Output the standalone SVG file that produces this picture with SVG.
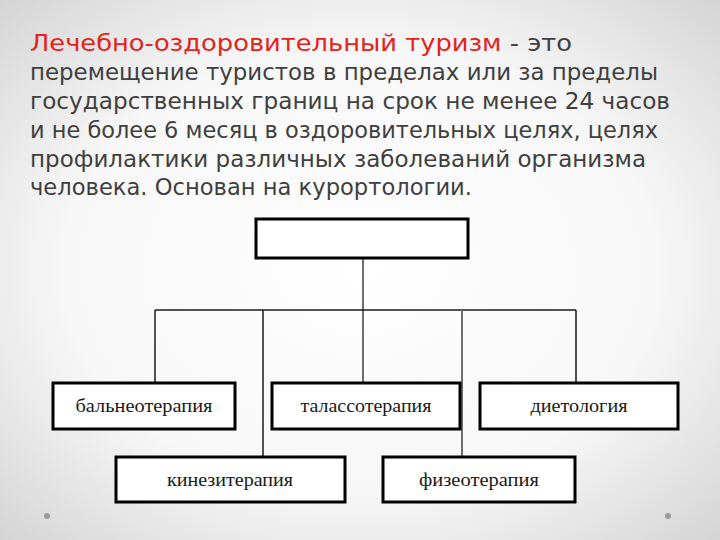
<svg xmlns="http://www.w3.org/2000/svg" width="720" height="540" viewBox="0 0 720 540">
  <defs>
    <radialGradient id="bg" cx="50%" cy="50%" r="75%">
      <stop offset="0" stop-color="#ffffff"/>
      <stop offset="0.55" stop-color="#f7f7f7"/>
      <stop offset="1" stop-color="#cfcfcf"/>
    </radialGradient>
  </defs>
  <style>
    .title { font-family: "DejaVu Sans", "Liberation Sans", sans-serif; font-size: 22.5px; fill: #3f3f3f; }
    .red { fill: #e3231c; }
    .box { fill: #ffffff; stroke: #000000; stroke-width: 3; }
    .lbl { font-family: "Liberation Serif", "Times New Roman", serif; font-size: 19px; fill: #1a1a1a; text-anchor: middle; }
    .ln { stroke: #1a1a1a; stroke-width: 1.5; fill: none; }
    .lng { stroke: #6f6f6f; stroke-width: 2; fill: none; }
    .dot { fill: #9a9a9a; }
  </style>
  <rect x="0" y="0" width="720" height="540" fill="url(#bg)"/>

  <g id="title">
    <text class="title" x="30" y="51" textLength="542" lengthAdjust="spacingAndGlyphs"><tspan class="red">Лечебно-оздоровительный туризм</tspan> - это</text>
    <text class="title" x="30" y="80" textLength="628" lengthAdjust="spacingAndGlyphs">перемещение туристов в пределах или за пределы</text>
    <text class="title" x="30" y="109" textLength="640" lengthAdjust="spacingAndGlyphs">государственных границ на срок не менее 24 часов</text>
    <text class="title" x="30" y="138" textLength="628" lengthAdjust="spacingAndGlyphs">и не более 6 месяц в оздоровительных целях, целях</text>
    <text class="title" x="30" y="167" textLength="616" lengthAdjust="spacingAndGlyphs">профилактики различных заболеваний организма</text>
    <text class="title" x="30" y="195" textLength="442" lengthAdjust="spacingAndGlyphs">человека. Основан на курортологии.</text>
  </g>

  <g id="connectors">
    <line class="lng" x1="363" y1="258" x2="363" y2="383"/>
    <line class="ln" x1="155" y1="310" x2="576" y2="310"/>
    <line class="ln" x1="155" y1="310" x2="155" y2="383"/>
    <line class="ln" x1="263" y1="310" x2="263" y2="457"/>
    <line class="lng" x1="462" y1="310" x2="462" y2="457"/>
    <line class="ln" x1="576" y1="310" x2="576" y2="383"/>
  </g>

  <g id="root">
    <rect class="box" x="256" y="219" width="212" height="39"/>
  </g>
  <g id="balneo">
    <rect class="box" x="53" y="383" width="182" height="46"/>
    <text class="lbl" x="144" y="412" textLength="137" lengthAdjust="spacingAndGlyphs">бальнеотерапия</text>
  </g>
  <g id="talasso">
    <rect class="box" x="272" y="383" width="188" height="46"/>
    <text class="lbl" x="366" y="412" textLength="131" lengthAdjust="spacingAndGlyphs">талассотерапия</text>
  </g>
  <g id="dieto">
    <rect class="box" x="480" y="383" width="198" height="46"/>
    <text class="lbl" x="579" y="412" textLength="97" lengthAdjust="spacingAndGlyphs">диетология</text>
  </g>
  <g id="kinezi">
    <rect class="box" x="116" y="457" width="229" height="45"/>
    <text class="lbl" x="230" y="486" textLength="126" lengthAdjust="spacingAndGlyphs">кинезитерапия</text>
  </g>
  <g id="fizeo">
    <rect class="box" x="383" y="457" width="192" height="45"/>
    <text class="lbl" x="479" y="486" textLength="120" lengthAdjust="spacingAndGlyphs">физеотерапия</text>
  </g>

  <circle class="dot" cx="47" cy="516" r="3"/>
  <circle class="dot" cx="668" cy="516" r="3"/>
</svg>
